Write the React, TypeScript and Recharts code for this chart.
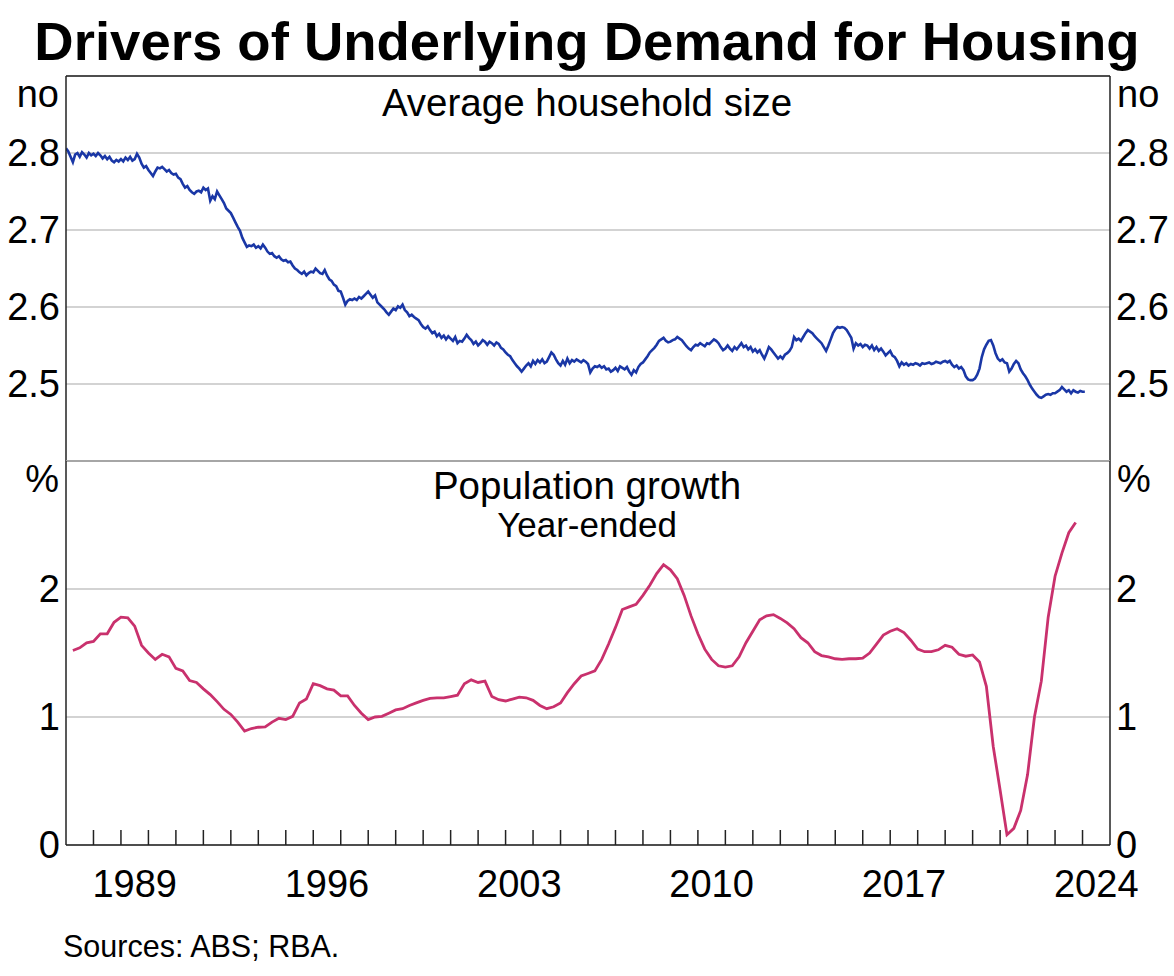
import { LineChart, Line, XAxis, YAxis, CartesianGrid, ReferenceLine } from "recharts";

const FONT = '"Liberation Sans", Arial, Helvetica, sans-serif';
const BLUE = "#1a37a6";
const PINK = "#c9316d";
const FRAME = "#222";
const GRID = "#c4c4c4";

// Average household size (no), monthly, one row per year from 1987
const sizeStartYear = 1987;
const householdSize: number[][] = [
  [2.806, 2.802, 2.795, 2.788, 2.798, 2.8, 2.795, 2.801, 2.798, 2.794, 2.8, 2.797], // 1987
  [2.799, 2.796, 2.8, 2.797, 2.793, 2.796, 2.792, 2.795, 2.79, 2.788, 2.791, 2.789],
  [2.792, 2.789, 2.794, 2.791, 2.795, 2.79, 2.792, 2.799, 2.794, 2.786, 2.781, 2.783],
  [2.778, 2.774, 2.77, 2.776, 2.781, 2.78, 2.782, 2.779, 2.776, 2.778, 2.774, 2.772], // 1990
  [2.773, 2.768, 2.766, 2.76, 2.755, 2.757, 2.752, 2.749, 2.747, 2.75, 2.751, 2.749],
  [2.755, 2.752, 2.754, 2.738, 2.744, 2.74, 2.75, 2.745, 2.74, 2.735, 2.728, 2.725],
  [2.722, 2.716, 2.71, 2.704, 2.699, 2.69, 2.684, 2.678, 2.68, 2.679, 2.681, 2.677],
  [2.679, 2.676, 2.681, 2.677, 2.672, 2.669, 2.67, 2.666, 2.664, 2.666, 2.662, 2.66],
  [2.661, 2.658, 2.659, 2.654, 2.65, 2.648, 2.645, 2.643, 2.646, 2.641, 2.644, 2.646], // 1995
  [2.645, 2.65, 2.647, 2.644, 2.643, 2.648, 2.641, 2.636, 2.634, 2.629, 2.627, 2.621],
  [2.62, 2.612, 2.603, 2.608, 2.61, 2.609, 2.611, 2.609, 2.613, 2.611, 2.614, 2.617],
  [2.62, 2.616, 2.612, 2.615, 2.606, 2.603, 2.6, 2.597, 2.593, 2.59, 2.594, 2.598],
  [2.596, 2.601, 2.599, 2.603, 2.596, 2.593, 2.588, 2.59, 2.587, 2.585, 2.583, 2.578],
  [2.574, 2.572, 2.575, 2.57, 2.566, 2.568, 2.562, 2.565, 2.56, 2.563, 2.558, 2.562], // 2000
  [2.559, 2.556, 2.561, 2.553, 2.556, 2.555, 2.559, 2.564, 2.56, 2.557, 2.552, 2.555],
  [2.55, 2.553, 2.557, 2.555, 2.551, 2.555, 2.553, 2.55, 2.554, 2.552, 2.547, 2.545],
  [2.541, 2.538, 2.536, 2.531, 2.527, 2.523, 2.52, 2.516, 2.52, 2.524, 2.527, 2.523],
  [2.53, 2.526, 2.531, 2.528, 2.532, 2.527, 2.529, 2.535, 2.541, 2.538, 2.532, 2.527],
  [2.524, 2.53, 2.525, 2.533, 2.527, 2.531, 2.529, 2.532, 2.53, 2.528, 2.531, 2.529], // 2005
  [2.526, 2.515, 2.52, 2.523, 2.522, 2.524, 2.521, 2.523, 2.519, 2.52, 2.516, 2.518],
  [2.521, 2.517, 2.523, 2.521, 2.519, 2.522, 2.516, 2.512, 2.518, 2.515, 2.522, 2.526],
  [2.528, 2.532, 2.536, 2.541, 2.544, 2.547, 2.551, 2.556, 2.558, 2.56, 2.556, 2.554],
  [2.555, 2.557, 2.558, 2.561, 2.559, 2.557, 2.553, 2.549, 2.546, 2.544, 2.548, 2.551],
  [2.55, 2.553, 2.551, 2.549, 2.553, 2.552, 2.555, 2.558, 2.556, 2.553, 2.548, 2.544], // 2010
  [2.546, 2.55, 2.546, 2.543, 2.548, 2.545, 2.549, 2.553, 2.548, 2.55, 2.545, 2.548],
  [2.542, 2.545, 2.541, 2.544, 2.538, 2.533, 2.54, 2.548, 2.545, 2.541, 2.537, 2.533],
  [2.536, 2.533, 2.538, 2.54, 2.543, 2.548, 2.561, 2.557, 2.559, 2.556, 2.561, 2.566],
  [2.57, 2.568, 2.566, 2.562, 2.559, 2.556, 2.553, 2.548, 2.543, 2.55, 2.558, 2.566],
  [2.571, 2.574, 2.573, 2.574, 2.573, 2.57, 2.565, 2.56, 2.546, 2.553, 2.55, 2.552], // 2015
  [2.548, 2.551, 2.55, 2.546, 2.55, 2.544, 2.548, 2.543, 2.546, 2.542, 2.537, 2.54],
  [2.543, 2.537, 2.535, 2.53, 2.523, 2.528, 2.525, 2.527, 2.524, 2.526, 2.525, 2.527],
  [2.526, 2.524, 2.527, 2.526, 2.527, 2.528, 2.526, 2.527, 2.529, 2.528, 2.527, 2.529],
  [2.53, 2.528, 2.53, 2.525, 2.522, 2.524, 2.52, 2.522, 2.518, 2.51, 2.506, 2.505],
  [2.505, 2.507, 2.512, 2.52, 2.535, 2.545, 2.551, 2.556, 2.557, 2.55, 2.54, 2.533], // 2020
  [2.53, 2.532, 2.528, 2.527, 2.516, 2.52, 2.526, 2.53, 2.527, 2.519, 2.514, 2.51],
  [2.505, 2.499, 2.494, 2.49, 2.486, 2.483, 2.482, 2.484, 2.486, 2.487, 2.486, 2.488],
  [2.488, 2.49, 2.492, 2.496, 2.493, 2.49, 2.492, 2.488, 2.492, 2.49, 2.489, 2.491],
  [2.49, 2.49], // 2024
];

// Population growth, year-ended (%), quarterly from Mar 1987
const popStart = 1987.25;
const populationGrowth: number[] = [
  1.52, 1.54, 1.58, 1.59, // 1987
  1.65, 1.65, 1.74, 1.78,
  1.775, 1.71, 1.56, 1.5,
  1.45, 1.49, 1.47, 1.38, // 1990
  1.36, 1.285, 1.27, 1.22,
  1.175, 1.12, 1.06, 1.02,
  0.96, 0.89, 0.91, 0.92,
  0.923, 0.96, 0.99, 0.98,
  1.005, 1.11, 1.14, 1.26, // 1995
  1.245, 1.22, 1.21, 1.165,
  1.165, 1.09, 1.03, 0.98,
  1.0, 1.005, 1.03, 1.055,
  1.065, 1.09, 1.11, 1.13,
  1.145, 1.15, 1.15, 1.16, // 2000
  1.17, 1.26, 1.29, 1.27,
  1.28, 1.16, 1.135, 1.125,
  1.14, 1.155, 1.15, 1.13,
  1.09, 1.065, 1.08, 1.11,
  1.19, 1.26, 1.32, 1.34, // 2005
  1.36, 1.45, 1.57, 1.7,
  1.84, 1.86, 1.88, 1.95,
  2.03, 2.12, 2.19, 2.15,
  2.08, 1.95, 1.79, 1.65,
  1.53, 1.45, 1.4, 1.39, // 2010
  1.4, 1.47, 1.58, 1.67,
  1.76, 1.79, 1.8, 1.77,
  1.735, 1.69, 1.62, 1.58,
  1.51, 1.48, 1.47, 1.455,
  1.45, 1.455, 1.455, 1.46, // 2015
  1.5, 1.57, 1.64, 1.67,
  1.69, 1.66, 1.6, 1.53,
  1.51, 1.51, 1.525, 1.56,
  1.545, 1.49, 1.475, 1.485,
  1.43, 1.24, 0.77, 0.43, // 2020
  0.08, 0.13, 0.27, 0.55,
  1.0, 1.28, 1.78, 2.1,
  2.28, 2.44, 2.52,
];

const xDomain = [1987, 2025];
const yearTicks = Array.from({ length: 37 }, (_, i) => 1988 + i);
const yearLabels = [1989, 1996, 2003, 2010, 2017, 2024];
// tick marks sit on year boundaries, labels in the middle of their year
const xTicks = [...yearTicks, ...yearLabels.map((y) => y + 0.5)].sort((a, b) => a - b);

const sizeData = householdSize.flatMap((row, i) =>
  row.map((v, m) => ({ x: sizeStartYear + i + m / 12, v }))
);
const popData = populationGrowth.map((v, i) => ({ x: popStart + i * 0.25, v }));

const tickText = { fontSize: 38, fill: "#000", fontFamily: FONT };

function YearTick(props: any) {
  const value = props.payload.value;
  if (Number.isInteger(value)) {
    return <line x1={props.x} x2={props.x} y1={props.y} y2={props.y - 15} stroke={FRAME} strokeWidth={1.5} />;
  }
  return (
    <text x={props.x} y={props.y + 52} textAnchor="middle" fontSize={38} fontFamily={FONT} fill="#000">
      {Math.floor(value)}
    </text>
  );
}

export default function App() {
  return (
    <div style={{ position: "absolute", left: 0, top: 0, width: 1174, height: 976, background: "#fff" }}>
      <div style={{ position: "absolute", left: 0, top: 0 }}>
        <LineChart width={1174} height={466} data={sizeData} margin={{ top: 76, right: 0, bottom: 5, left: 0 }}>
          <XAxis dataKey="x" type="number" domain={xDomain} allowDataOverflow hide />
          <YAxis yAxisId="left" orientation="left" width={66} domain={[2.4, 2.9]} ticks={[2.5, 2.6, 2.7, 2.8]}
            tickFormatter={(v: number) => v.toFixed(1)} axisLine={{ stroke: FRAME, strokeWidth: 1.5 }}
            tickLine={false} tickSize={0} tickMargin={6} tick={tickText} allowDataOverflow />
          <YAxis yAxisId="right" orientation="right" width={64} domain={[2.4, 2.9]} ticks={[2.5, 2.6, 2.7, 2.8]}
            tickFormatter={(v: number) => v.toFixed(1)} axisLine={{ stroke: FRAME, strokeWidth: 1.5 }}
            tickLine={false} tickSize={0} tickMargin={6} tick={tickText} allowDataOverflow />
          <CartesianGrid yAxisId="left" vertical={false} stroke={GRID} strokeWidth={1.5} />
          <ReferenceLine yAxisId="left" y={2.9} stroke={FRAME} strokeWidth={1.5} />
          <ReferenceLine yAxisId="left" y={2.4} stroke={FRAME} strokeWidth={1.5} />
          <Line yAxisId="left" dataKey="v" stroke={BLUE} strokeWidth={2.6} dot={false} isAnimationActive={false} />
        </LineChart>
      </div>
      <div style={{ position: "absolute", left: 0, top: 456 }}>
        <LineChart width={1174} height={520} data={popData} margin={{ top: 5, right: 0, bottom: 70, left: 0 }}>
          <XAxis dataKey="x" type="number" domain={xDomain} ticks={xTicks} allowDataOverflow interval={0}
            height={61} axisLine={{ stroke: FRAME, strokeWidth: 1.5 }} tickLine={false} tickSize={0} tickMargin={0}
            tick={<YearTick />} />
          <YAxis yAxisId="left" orientation="left" width={66} domain={[0, 3]} ticks={[0, 1, 2]}
            axisLine={{ stroke: FRAME, strokeWidth: 1.5 }} tickLine={false} tickSize={0} tickMargin={6}
            tick={tickText} allowDataOverflow />
          <YAxis yAxisId="right" orientation="right" width={64} domain={[0, 3]} ticks={[0, 1, 2]}
            axisLine={{ stroke: FRAME, strokeWidth: 1.5 }} tickLine={false} tickSize={0} tickMargin={6}
            tick={tickText} allowDataOverflow />
          <CartesianGrid yAxisId="left" vertical={false} stroke={GRID} strokeWidth={1.5} />
          <Line yAxisId="left" dataKey="v" stroke={PINK} strokeWidth={2.8} dot={false} isAnimationActive={false} />
        </LineChart>
      </div>
      <svg width={1174} height={976} style={{ position: "absolute", left: 0, top: 0, pointerEvents: "none" }}
        fontFamily={FONT} fill="#000">
        <text x={587} y={60} textAnchor="middle" fontSize={54.5} fontWeight="bold">
          Drivers of Underlying Demand for Housing
        </text>
        <text x={59} y={107} textAnchor="end" fontSize={38}>no</text>
        <text x={1117} y={107} textAnchor="start" fontSize={38}>no</text>
        <text x={587} y={116} textAnchor="middle" fontSize={38.5}>Average household size</text>
        <text x={59} y={492} textAnchor="end" fontSize={38}>%</text>
        <text x={1117} y={492} textAnchor="start" fontSize={38}>%</text>
        <text x={587} y={499} textAnchor="middle" fontSize={38.5}>Population growth</text>
        <text x={587} y={537} textAnchor="middle" fontSize={35}>Year-ended</text>
        <text x={63} y={957} fontSize={30.5}>Sources: ABS; RBA.</text>
      </svg>
    </div>
  );
}
